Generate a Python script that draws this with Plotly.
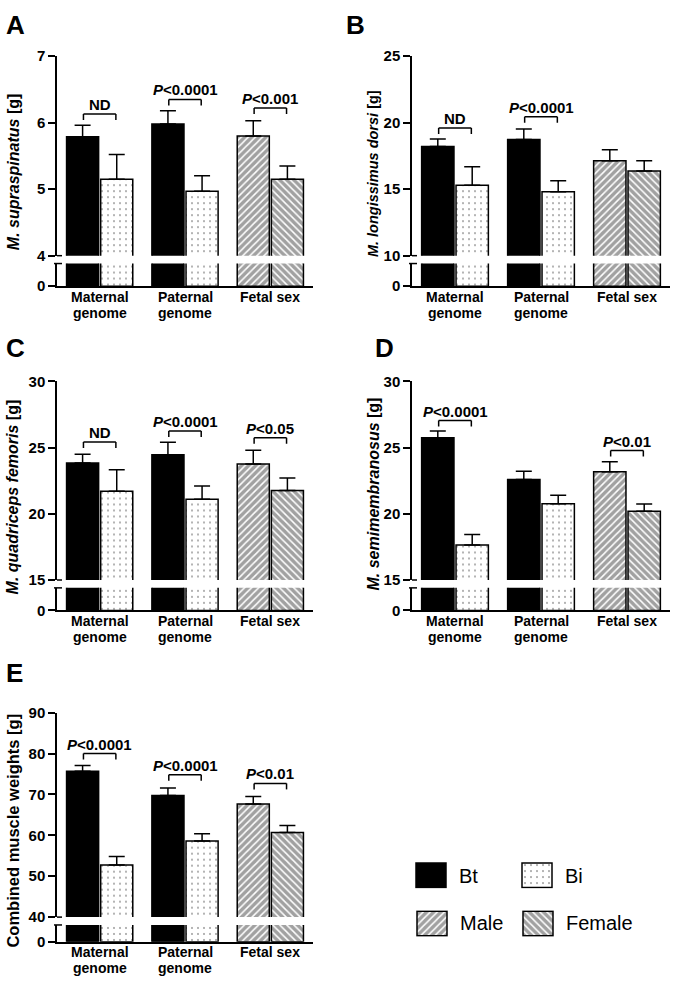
import plotly.graph_objects as go

# ---------------- data ----------------
group_names = ["Maternal genome", "Paternal genome", "Fetal sex"]
label_line1 = ["Maternal", "Paternal", "Fetal sex"]
label_line2 = ["genome", "genome", ""]

# Panel A: M. supraspinatus
a_first = [5.79, 5.98, 5.80]
a_first_sem = [0.17, 0.20, 0.23]
a_second = [5.15, 4.97, 5.15]
a_second_sem = [0.37, 0.23, 0.20]
a_sig_text = ["ND", "P<0.0001", "P<0.001"]

# Panel B: M. longissimus dorsi
b_first = [18.21, 18.74, 17.13]
b_first_sem = [0.56, 0.78, 0.83]
b_second = [15.30, 14.80, 16.37]
b_second_sem = [1.38, 0.84, 0.76]
b_sig_text = ["ND", "P<0.0001", ""]

# Panel C: M. quadriceps femoris
c_first = [23.84, 24.46, 23.76]
c_first_sem = [0.66, 0.94, 1.04]
c_second = [21.70, 21.10, 21.76]
c_second_sem = [1.63, 1.00, 0.94]
c_sig_text = ["ND", "P<0.0001", "P<0.05"]

# Panel D: M. semimembranosus
d_first = [25.74, 22.60, 23.17]
d_first_sem = [0.52, 0.62, 0.77]
d_second = [17.65, 20.77, 20.20]
d_second_sem = [0.79, 0.64, 0.54]
d_sig_text = ["P<0.0001", "", "P<0.01"]

# Panel E: combined muscle weights
e_first = [75.70, 69.76, 67.67]
e_first_sem = [1.40, 1.84, 1.83]
e_second = [52.73, 58.64, 60.70]
e_second_sem = [2.07, 1.76, 1.70]
e_sig_text = ["P<0.0001", "P<0.0001", "P<0.01"]

legend_labels = ["Bt", "Bi", "Male", "Female"]

# ---------------- layout / style ----------------
FONT = "Liberation Sans, Arial, sans-serif"
W, H = 675, 988


def fx(p):
    return p / W


def fy(p):
    return 1 - p / H


HATCH_SOL = 0.7
DOT_SOL = 0.1
first_fill = ["black", "black", "white"]
first_shape = ["", "", "/"]
second_fill = ["white", "white", "white"]
second_shape = [".", ".", "\\"]
first_size = [5, 5, 5]
second_size = [6, 6, 5]
first_sol = [HATCH_SOL] * 3
second_sol = [DOT_SOL, DOT_SOL, HATCH_SOL]

panels = [
    dict(letter="A", first=a_first, first_sem=a_first_sem, second=a_second, second_sem=a_second_sem,
         sig=a_sig_text, bracket_y=[6.13, 6.35, 6.22],
         title="<b><i>M. supraspinatus</i> [g]</b>", title_size=16, yrange=[4, 7], dtick=1,
         xpx=(57, 313), up=(48, 251), low=(259, 282), title_xy=(13, 166), letter_xy=(15, 16)),
    dict(letter="B", first=b_first, first_sem=b_first_sem, second=b_second, second_sem=b_second_sem,
         sig=b_sig_text, bracket_y=[19.6, 20.44, None],
         title="<b><i>M. longissimus dorsi</i> [g]</b>", title_size=14.5, yrange=[10, 25], dtick=5,
         xpx=(412, 670), up=(48, 251), low=(259, 282), title_xy=(373, 168), letter_xy=(355, 16)),
    dict(letter="C", first=c_first, first_sem=c_first_sem, second=c_second, second_sem=c_second_sem,
         sig=c_sig_text, bracket_y=[25.42, 26.26, 25.74],
         title="<b><i>M. quadriceps femoris</i> [g]</b>", title_size=16, yrange=[15, 30], dtick=5,
         xpx=(57, 313), up=(379, 581), low=(589, 612), title_xy=(12, 497), letter_xy=(15, 345)),
    dict(letter="D", first=d_first, first_sem=d_first_sem, second=d_second, second_sem=d_second_sem,
         sig=d_sig_text, bracket_y=[27.05, None, 24.78],
         title="<b><i>M. semimembranosus</i> [g]</b>", title_size=16, yrange=[15, 30], dtick=5,
         xpx=(412, 670), up=(379, 581), low=(589, 612), title_xy=(373, 494), letter_xy=(384, 345)),
    dict(letter="E", first=e_first, first_sem=e_first_sem, second=e_second, second_sem=e_second_sem,
         sig=e_sig_text, bracket_y=[80.0, 74.8, 72.7],
         title="<b>Combined muscle weights [g]</b>", title_size=16.5, yrange=[40, 90], dtick=10,
         xpx=(57, 313), up=(716, 924), low=(932, 949), title_xy=(13, 836), letter_xy=(14, 676)),
]

fig = go.Figure()
lay = {}
annotations = []
shapes = []

axis_common = dict(showgrid=False, zeroline=False, fixedrange=True)
line_style = dict(showline=True, linecolor="black", linewidth=1.5)
tickfont = dict(family=FONT, size=15, color="black", weight="bold")


def sig_html(t):
    if t.startswith("P<"):
        return "<b><i>P</i>&lt;" + t[2:] + "</b>"
    return "<b>" + t + "</b>"


for i, P in enumerate(panels):
    xn = i + 1
    yu, yl = 2 * i + 1, 2 * i + 2
    xname = "x" if xn == 1 else f"x{xn}"
    yuname = "y" if yu == 1 else f"y{yu}"
    ylname = f"y{yl}"
    xkey = "xaxis" if xn == 1 else f"xaxis{xn}"
    yukey = "yaxis" if yu == 1 else f"yaxis{yu}"
    ylkey = f"yaxis{yl}"

    for yname, upper in [(yuname, True), (ylname, False)]:
        fig.add_trace(go.Bar(
            x=group_names, y=P["first"], xaxis=xname, yaxis=yname,
            marker=dict(color=first_fill, line=dict(color="black", width=1.5),
                        pattern=dict(shape=first_shape, fgcolor="black", size=first_size,
                                     solidity=first_sol, fillmode="overlay")),
            error_y=dict(type="data", symmetric=False, array=P["first_sem"], arrayminus=[0, 0, 0],
                         color="black", thickness=1.5, width=8, visible=upper),
            showlegend=False, hoverinfo="skip"))
        fig.add_trace(go.Bar(
            x=group_names, y=P["second"], xaxis=xname, yaxis=yname,
            marker=dict(color=second_fill, line=dict(color="black", width=1.5),
                        pattern=dict(shape=second_shape, fgcolor="black", size=second_size,
                                     solidity=second_sol, fillmode="overlay")),
            error_y=dict(type="data", symmetric=False, array=P["second_sem"], arrayminus=[0, 0, 0],
                         color="black", thickness=1.5, width=8, visible=upper),
            showlegend=False, hoverinfo="skip"))

    x0, x1 = P["xpx"]
    lay[xkey] = dict(domain=[fx(x0), fx(x1)], anchor=ylname, type="category", range=[-0.5, 2.5],
                     ticks="", showticklabels=False, **line_style, **axis_common)
    lay[yukey] = dict(domain=[fy(P["up"][1]), fy(P["up"][0])], anchor=xname, range=P["yrange"],
                      tick0=P["yrange"][0], dtick=P["dtick"], ticks="outside", ticklen=7, tickwidth=1.5,
                      tickcolor="black", tickfont=tickfont, **line_style, **axis_common)
    lay[ylkey] = dict(domain=[fy(P["low"][1]), fy(P["low"][0])], anchor=xname, range=[0, 1],
                      tickvals=[0], ticktext=["0"], ticks="outside", ticklen=7, tickwidth=1.5,
                      tickcolor="black", tickfont=tickfont, **line_style, **axis_common)

    # axis break marks
    shapes.append(dict(type="line", xref="paper", yref="paper", x0=fx(x0), x1=fx(x0 + 5),
                       y0=fy(P["up"][1]), y1=fy(P["up"][1]), line=dict(color="black", width=1.5)))
    shapes.append(dict(type="line", xref="paper", yref="paper", x0=fx(x0 - 3), x1=fx(x0 + 5),
                       y0=fy(P["low"][0]), y1=fy(P["low"][0]), line=dict(color="black", width=1.5)))

    # significance brackets
    for g, (t, yb) in enumerate(zip(P["sig"], P["bracket_y"])):
        if not t:
            continue
        xa, xb = g - 0.19, g + 0.19
        shapes.append(dict(type="line", xref=xname, yref=yuname, x0=xa, x1=xb, y0=yb, y1=yb,
                           line=dict(color="black", width=1.5)))
        for xx in (xa, xb):
            shapes.append(dict(type="line", xref=xname, yref=yuname, x0=xx, x1=xx,
                               ysizemode="pixel", yanchor=yb, y0=0, y1=-6,
                               line=dict(color="black", width=1.5)))
        annotations.append(dict(x=g, y=yb, xref=xname, yref=yuname, text=sig_html(t),
                                showarrow=False, yanchor="bottom", yshift=-1,
                                font=dict(family=FONT, size=15, color="black")))

    # category labels
    for g in range(3):
        annotations.append(dict(x=g, y=fy(P["low"][1] + 11), xref=xname, yref="paper",
                                text="<b>" + label_line1[g] + "</b>", showarrow=False, borderpad=0,
                                yanchor="middle", font=dict(family=FONT, size=14, color="black")))
        if label_line2[g]:
            annotations.append(dict(x=g, y=fy(P["low"][1] + 27), xref=xname, yref="paper",
                                    text="<b>" + label_line2[g] + "</b>", showarrow=False, borderpad=0,
                                    yanchor="middle", font=dict(family=FONT, size=14, color="black")))

    # y title
    tx, ty = P["title_xy"]
    annotations.append(dict(x=fx(tx), y=fy(ty), xref="paper", yref="paper", text=P["title"],
                            textangle=-90, showarrow=False, xanchor="center", yanchor="middle",
                            font=dict(family=FONT, size=P["title_size"], color="black")))
    # panel letter
    lx, ly = P["letter_xy"]
    annotations.append(dict(x=fx(lx), y=fy(ly), xref="paper", yref="paper", text="<b>" + P["letter"] + "</b>",
                            showarrow=False, xanchor="center", yanchor="middle",
                            font=dict(family=FONT, size=26, color="black")))

# ---------------- legend (pattern swatches) ----------------
legend_rows = [
    dict(labels=legend_labels[0:2], fill=["black", "white"], shape=["", "."], size=[5, 6],
         sol=[HATCH_SOL, DOT_SOL], xpx=(378, 590), ypx=(868, 895), ytext=882),
    dict(labels=legend_labels[2:4], fill=["white", "white"], shape=["/", "\\"], size=[5, 5],
         sol=[HATCH_SOL, HATCH_SOL], xpx=(379, 591), ypx=(917, 944), ytext=930),
]
for r, R in enumerate(legend_rows):
    xn = 6 + r
    yn = 11 + r
    fig.add_trace(go.Bar(
        x=R["labels"], y=[1, 1], xaxis=f"x{xn}", yaxis=f"y{yn}", width=0.283,
        marker=dict(color=R["fill"], line=dict(color="black", width=1.5),
                    pattern=dict(shape=R["shape"], fgcolor="black", size=R["size"],
                                 solidity=R["sol"], fillmode="overlay")),
        showlegend=False, hoverinfo="skip"))
    lay[f"xaxis{xn}"] = dict(domain=[fx(R["xpx"][0]), fx(R["xpx"][1])], anchor=f"y{yn}",
                            type="category", range=[-0.5, 1.5], visible=False, **axis_common)
    lay[f"yaxis{yn}"] = dict(domain=[fy(R["ypx"][1]), fy(R["ypx"][0])], anchor=f"x{xn}",
                            range=[-0.04, 1.04], visible=False, **axis_common)
    for k, lab in enumerate(R["labels"]):
        annotations.append(dict(x=k, y=fy(R["ytext"]), xref=f"x{xn}", yref="paper", text=lab,
                                showarrow=False, xanchor="left", yanchor="middle", xshift=26,
                                font=dict(family=FONT, size=20, color="black")))

fig.update_layout(
    width=W, height=H, autosize=False,
    margin=dict(l=0, r=0, t=0, b=0),
    paper_bgcolor="white", plot_bgcolor="rgba(0,0,0,0)",
    barmode="group", bargap=0.2, bargroupgap=0.06,
    annotations=annotations, shapes=shapes,
    font=dict(family=FONT, color="black"),
    **lay,
)

fig.write_html("out.html", config={"displayModeBar": False},
               post_script="document.body.style.margin='0';document.body.style.padding='0';"
                           "document.documentElement.style.overflow='hidden';")
